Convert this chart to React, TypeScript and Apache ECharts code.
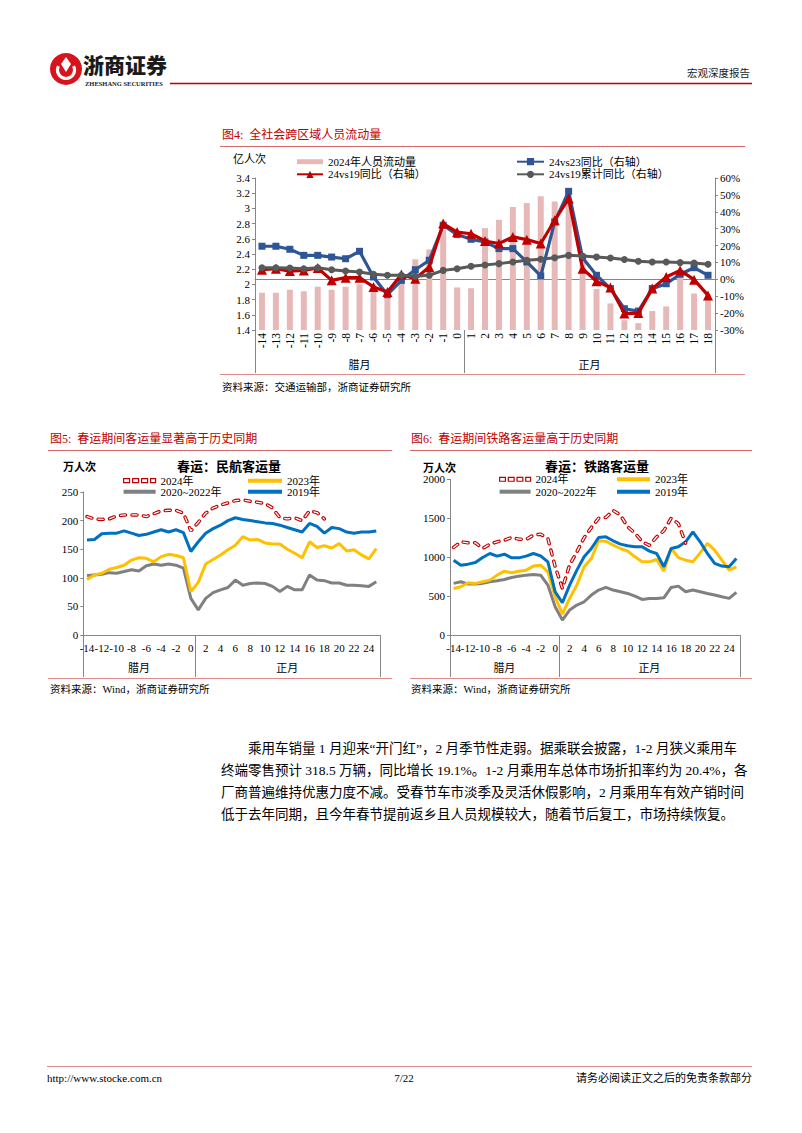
import React, { useEffect, useRef } from 'react';
import * as echarts from 'echarts';

const SERIF = '"Liberation Serif", "Times New Roman", "Noto Sans CJK SC", serif';
const SANS_CJK = '"Noto Sans CJK SC", sans-serif';

// ---------- 图4 ----------
const c4Categories = ['-14','-13','-12','-11','-10','-9','-8','-7','-6','-5','-4','-3','-2','-1','0','1','2','3','4','5','6','7','8','9','10','11','12','13','14','15','16','17','18'];
const c4Groups = ['腊月', '正月'];
const c4Flow = [1.89,1.89,1.93,1.91,1.97,1.93,1.97,2.00,2.00,1.85,2.10,2.33,2.46,2.72,1.96,1.95,2.74,2.85,3.02,3.07,3.16,3.09,3.10,2.30,1.94,1.75,1.53,1.49,1.65,1.71,2.15,1.88,1.87];
const c4Vs23 = [19.6,19.6,17.8,14.2,14.2,13.2,12.2,16.6,1.4,-9.1,-0.6,5.7,11.3,32.0,26.5,23.7,22.1,18.2,18.2,10.3,2.0,34.0,52.1,12.8,2.4,-5.5,-17.4,-18.8,-5.5,-2.6,3.0,6.9,2.4];
const c4Vs19 = [5.7,6.3,4.9,5.3,6.7,-0.6,1.0,1.0,-4.5,-7.5,2.8,0.4,7.3,33.0,28.0,27.0,22.7,21.2,25.1,23.5,21.2,35.0,47.8,6.3,-1.2,-4.9,-20.3,-20.0,-5.5,1.4,5.3,-0.2,-9.5];
const c4Cum19 = [6.9,6.9,6.7,6.3,6.9,5.7,4.9,4.3,3.0,2.4,2.4,1.8,2.4,5.3,6.3,7.7,8.5,9.3,10.3,11.3,11.9,12.8,14.2,13.8,13.2,12.6,11.7,10.7,10.3,10.3,9.9,9.7,8.9];

// ---------- 图5 民航 ----------
const c5Categories = ['-14','-13','-12','-11','-10','-9','-8','-7','-6','-5','-4','-3','-2','-1','0','1','2','3','4','5','6','7','8','9','10','11','12','13','14','15','16','17','18','19','20','21','22','23','24','25'];
const c5Y2024 = [207,203,202,203,208,210,210,210,207,212,217,218,218,213,182,197,213,222,227,231,235,236,234,232,230,222,205,203,205,200,217,214,203];
const c5Y2023 = [97,105,108,115,118,122,131,135,134,128,137,141,139,135,76,92,124,132,140,149,157,172,166,167,161,159,159,150,143,135,163,153,156,152,160,147,149,140,133,151];
const c5Y2019 = [166,167,177,178,178,182,178,174,176,180,184,180,184,179,146,163,178,186,192,200,205,202,200,198,196,195,192,188,184,180,195,190,178,188,186,180,178,180,180,182];
const c5YRange = [104,105,106,109,108,111,114,112,121,124,122,124,122,117,64,44,64,74,79,83,96,87,90,91,90,85,76,85,79,79,105,96,95,91,91,87,87,86,85,93];

// ---------- 图6 铁路 ----------
const c6Categories = c5Categories;
const c6Y2024 = [1124,1197,1184,1184,1111,1167,1197,1218,1252,1231,1227,1282,1295,1239,880,598,900,1068,1250,1380,1500,1510,1600,1540,1390,1310,1200,1150,1260,1340,1500,1430,1180];
const c6Y2023 = [598,620,671,663,684,705,769,820,799,820,833,885,897,812,491,269,470,641,876,983,1210,1205,1154,1111,1077,1004,940,940,970,820,1111,995,961,940,1055,1176,1090,961,833,876];
const c6Y2019 = [961,897,910,931,995,1047,1013,1038,991,991,1013,1047,1017,940,555,414,641,833,1004,1111,1252,1261,1210,1167,1146,1133,1133,1077,1047,876,1111,1133,1197,1325,1197,1047,919,885,876,983];
const c6YRange = [663,684,654,654,663,684,696,713,739,756,769,778,769,641,363,192,320,385,427,513,577,611,577,556,534,500,457,470,470,478,611,628,556,577,556,534,513,491,470,547];

const RED = '#c00000';
const BLUE4 = '#2f5597';
const GRAY4 = '#595959';
const PINK = '#e6b9b8';
const YELLOW = '#ffc000';
const BLUE = '#0070c0';
const GRAY = '#808080';
const AXIS = '#868686';

const paragraph = [
  '乘用车销量 1 月迎来“开门红”，2 月季节性走弱。据乘联会披露，1-2 月狭义乘用车',
  '终端零售预计 318.5 万辆，同比增长 19.1%。1-2 月乘用车总体市场折扣率约为 20.4%，各',
  '厂商普遍维持优惠力度不减。受春节车市淡季及灵活休假影响，2 月乘用车有效产销时间',
  '低于去年同期，且今年春节提前返乡且人员规模较大，随着节后复工，市场持续恢复。',
];

const txt = (x: number, y: number, text: string, size: number, o: any = {}) => ({
  type: 'text', x, y, silent: true,
  style: {
    text, fontSize: size, fontFamily: o.family || SERIF, fill: o.fill || '#000',
    fontWeight: o.weight || 'normal', textAlign: o.align || 'left', textVerticalAlign: 'middle',
  },
});
const ln = (x1: number, y1: number, x2: number, y2: number, stroke: string, w = 1) => ({
  type: 'line', silent: true, shape: { x1, y1, x2, y2 }, style: { stroke, lineWidth: w },
});

const staticGraphics = () => [
  // header
  { type: 'circle', silent: true, shape: { cx: 66, cy: 69, r: 16 }, style: { fill: '#d7141c' } },
  { type: 'arc', silent: true, shape: { cx: 66, cy: 70, r: 8.5, startAngle: -0.15 * Math.PI, endAngle: 1.15 * Math.PI, clockwise: true }, style: { stroke: '#fff', lineWidth: 3.2, fill: 'none' } },
  { type: 'polygon', silent: true, shape: { points: [[66, 57], [71, 64], [66, 72], [61, 64]] }, style: { fill: '#fff' } },
  txt(83, 64, '浙商证券', 21, { family: SANS_CJK, weight: 900, fill: '#1a1a1a' }),
  txt(85, 83.5, 'ZHESHANG SECURITIES', 6.5, { weight: 'bold', fill: '#222' }),
  ln(170, 83.5, 752, 83.5, RED, 1.5),
  txt(750, 73, '宏观深度报告', 10.5, { align: 'right', fill: '#222' }),
  // chart 4 frame
  txt(222, 135, '图4:  全社会跨区域人员流动量', 12, { fill: RED }),
  ln(220, 146.5, 745, 146.5, '#d46a6a', 1),
  txt(233, 158.5, '亿人次', 11),
  ln(220, 374.5, 745, 374.5, '#e08a8a', 1),
  txt(222, 387, '资料来源：交通运输部，浙商证券研究所', 10.5),
  // chart 5 frame
  txt(50, 439, '图5:  春运期间客运量显著高于历史同期', 12, { fill: RED }),
  ln(48, 450.5, 392, 450.5, '#d46a6a', 1),
  txt(63, 467, '万人次', 11, { weight: 'bold' }),
  txt(229, 466.5, '春运：民航客运量', 13, { weight: 'bold', align: 'center' }),
  ln(48, 678.5, 392, 678.5, '#e08a8a', 1),
  txt(50, 689.5, '资料来源：Wind，浙商证券研究所', 10.5),
  // chart 6 frame
  txt(411, 439, '图6:  春运期间铁路客运量高于历史同期', 12, { fill: RED }),
  ln(410, 450.5, 752, 450.5, '#d46a6a', 1),
  txt(423, 468, '万人次', 11, { weight: 'bold' }),
  txt(597, 466, '春运：铁路客运量', 13, { weight: 'bold', align: 'center' }),
  ln(410, 678.5, 752, 678.5, '#e08a8a', 1),
  txt(411, 689.5, '资料来源：Wind，浙商证券研究所', 10.5),
  // paragraph
  txt(248, 748, paragraph[0], 13.5),
  txt(221, 770, paragraph[1], 13.5),
  txt(221, 792, paragraph[2], 13.5),
  txt(221, 814, paragraph[3], 13.5),
  // footer
  ln(47, 1066.5, 752, 1066.5, '#e08a8a', 1),
  txt(47, 1078, 'http://www.stocke.com.cn', 11),
  txt(404, 1078, '7/22', 11, { align: 'center' }),
  txt(752, 1078, '请务必阅读正文之后的免责条款部分', 11, { align: 'right' }),
];

const labelStyle = { color: '#000', fontFamily: SERIF, fontSize: 11 };

const catAxis = (gridIndex: number, data: string[], extra: any = {}) => ({
  type: 'category', gridIndex, data, boundaryGap: true,
  axisLine: { show: true, lineStyle: { color: AXIS, width: 1 } },
  axisTick: { show: false },
  splitLine: { show: false },
  axisLabel: { ...labelStyle, ...extra },
});

const valAxis = (gridIndex: number, min: number, max: number, interval: number, extra: any = {}) => ({
  type: 'value', gridIndex, min, max, interval,
  axisLine: { show: true, lineStyle: { color: AXIS, width: 1 } },
  axisTick: { show: true, length: 3, lineStyle: { color: AXIS } },
  splitLine: { show: false },
  axisLabel: { ...labelStyle, margin: 5, formatter: (v: number) => String(Math.round(v * 10) / 10), ...extra },
});

const lineSeries = (name: string, x: number, y: number, data: number[], color: string, z: number, extra: any = {}) => ({
  type: 'line', name, xAxisIndex: x, yAxisIndex: y, data, z,
  symbol: 'none', smooth: false,
  lineStyle: { color, width: 3 },
  itemStyle: { color },
  emphasis: { disabled: true },
  ...extra,
});

const dashIcon = 'path://M0,0h6v4h-6zM9,0h6v4h-6zM18,0h6v4h-6zM27,0h5v4h-5z';

const buildOption = () => ({
  animation: false,
  backgroundColor: '#fff',
  grid: [
    { left: 255, top: 178, width: 460, height: 152 },
    { left: 83.3, top: 492, width: 296.7, height: 143 },
    { left: 450, top: 479.3, width: 290, height: 155.7 },
  ],
  xAxis: [
    catAxis(0, c4Categories, { rotate: 90, interval: 0, margin: 3, fontSize: 11.5 }),
    catAxis(1, c5Categories, { interval: 1, margin: 7 }),
    catAxis(2, c6Categories, { interval: 1, margin: 7 }),
  ],
  yAxis: [
    valAxis(0, 1.4, 3.4, 0.2),
    { ...valAxis(0, -30, 60, 10, { formatter: (v: number) => `${Math.round(v)}%` }), position: 'right' },
    valAxis(1, 0, 250, 50),
    valAxis(2, 0, 2000, 500),
  ],
  legend: [
    {
      left: 296, top: 155.4, orient: 'vertical', padding: 0, itemGap: 0, itemWidth: 26, itemHeight: 9,
      textStyle: { ...labelStyle, lineHeight: 12.6 },
      data: [{ name: '2024年人员流动量', icon: 'path://M0,0h26v5h-26z' }, '24vs19同比（右轴）'],
    },
    {
      left: 516, top: 155.4, orient: 'vertical', padding: 0, itemGap: 0, itemWidth: 27, itemHeight: 9,
      textStyle: { ...labelStyle, lineHeight: 12.6 },
      data: ['24vs23同比（右轴）', '24vs19累计同比（右轴）'],
    },
    {
      left: 123, top: 475.2, orient: 'vertical', padding: 0, itemGap: 0, itemWidth: 32, itemHeight: 4,
      textStyle: { ...labelStyle, lineHeight: 11 },
      data: [
        { name: '2024年', icon: dashIcon, itemStyle: { color: '#fff', borderColor: RED, borderWidth: 1.2 } },
        { name: '2020~2022年', icon: 'rect' },
      ],
    },
    {
      left: 248, top: 475.2, orient: 'vertical', padding: 0, itemGap: 0, itemWidth: 34, itemHeight: 4,
      textStyle: { ...labelStyle, lineHeight: 11 },
      data: [{ name: '2023年', icon: 'rect' }, { name: '2019年', icon: 'rect' }],
    },
    {
      left: 499, top: 473.1, orient: 'vertical', padding: 0, itemGap: 0, itemWidth: 31, itemHeight: 4,
      textStyle: { ...labelStyle, lineHeight: 12.4 },
      data: [
        { name: '2024年', icon: dashIcon, itemStyle: { color: '#fff', borderColor: RED, borderWidth: 1.2 } },
        { name: '2020~2022年', icon: 'rect' },
      ],
    },
    {
      left: 617, top: 473.1, orient: 'vertical', padding: 0, itemGap: 0, itemWidth: 33, itemHeight: 4,
      textStyle: { ...labelStyle, lineHeight: 12.4 },
      data: [{ name: '2023年', icon: 'rect' }, { name: '2019年', icon: 'rect' }],
    },
  ],
  series: [
    // chart 4
    {
      type: 'bar', name: '2024年人员流动量', xAxisIndex: 0, yAxisIndex: 0, data: c4Flow,
      barWidth: 6, itemStyle: { color: PINK }, z: 2, emphasis: { disabled: true },
    },
    lineSeries('24vs23同比（右轴）', 0, 1, c4Vs23, BLUE4, 3, { symbol: 'rect', symbolSize: 7, showSymbol: true, showAllSymbol: true, lineStyle: { color: BLUE4, width: 3.2 } }),
    lineSeries('24vs19同比（右轴）', 0, 1, c4Vs19, RED, 4, { symbol: 'triangle', symbolSize: 10, showSymbol: true, showAllSymbol: true, lineStyle: { color: RED, width: 3.2 } }),
    lineSeries('24vs19累计同比（右轴）', 0, 1, c4Cum19, GRAY4, 5, { symbol: 'circle', symbolSize: 7, showSymbol: true, showAllSymbol: true, lineStyle: { color: GRAY4, width: 3 } }),
    // chart 5
    lineSeries('2020~2022年', 1, 2, c5YRange, GRAY, 2),
    lineSeries('2023年', 1, 2, c5Y2023, YELLOW, 3),
    lineSeries('2019年', 1, 2, c5Y2019, BLUE, 4),
    lineSeries('2024年', 1, 2, c5Y2024, RED, 5, { lineStyle: { color: RED, width: 3.5, type: [5, 6.5], cap: 'round' } }),
    lineSeries('2024年内', 1, 2, c5Y2024, '#fff', 6, { lineStyle: { color: '#fff', width: 1.3, type: [5, 6.5], cap: 'round' } }),
    // chart 6
    lineSeries('2020~2022年', 2, 3, c6YRange, GRAY, 2),
    lineSeries('2023年', 2, 3, c6Y2023, YELLOW, 3),
    lineSeries('2019年', 2, 3, c6Y2019, BLUE, 4),
    lineSeries('2024年', 2, 3, c6Y2024, RED, 5, { lineStyle: { color: RED, width: 3.5, type: [5, 6.5], cap: 'round' } }),
    lineSeries('2024年内', 2, 3, c6Y2024, '#fff', 6, { lineStyle: { color: '#fff', width: 1.3, type: [5, 6.5], cap: 'round' } }),
  ],
});

export default function App() {
  const ref = useRef<HTMLDivElement>(null);
  useEffect(() => {
    document.body.style.margin = '0';
    const chart = echarts.init(ref.current!, null, { renderer: 'svg' });
    chart.setOption(buildOption() as any);

    const groupGraphics: any[] = [];
    const addGroups = (axisIndex: number, n: number, splitAfter: number, axisY: number, bottomY: number, labelY: number) => {
      const px = (i: number) => chart.convertToPixel({ xAxisIndex: axisIndex } as any, i) as number;
      const band = px(1) - px(0);
      const left = px(0) - band / 2;
      const right = px(n - 1) + band / 2;
      const mid = (px(splitAfter) + px(splitAfter + 1)) / 2;
      const snap = (v: number) => Math.round(v) + 0.5;
      groupGraphics.push(ln(snap(left), axisY, snap(left), bottomY, AXIS, 1));
      groupGraphics.push(ln(snap(mid), axisY, snap(mid), bottomY, AXIS, 1));
      groupGraphics.push(ln(snap(right), axisY, snap(right), bottomY, AXIS, 1));
      groupGraphics.push(txt((left + mid) / 2, labelY, c4Groups[0], 11, { align: 'center' }));
      groupGraphics.push(txt((mid + right) / 2, labelY, c4Groups[1], 11, { align: 'center' }));
    };
    addGroups(0, c4Categories.length, c4Categories.indexOf('0'), 330, 373, 365);
    addGroups(1, c5Categories.length, c5Categories.indexOf('0'), 635, 677, 668);
    addGroups(2, c6Categories.length, c6Categories.indexOf('0'), 635, 677, 668);

    chart.setOption({ graphic: [...staticGraphics(), ...groupGraphics] } as any);
    return () => chart.dispose();
  }, []);
  return (
    <div
      ref={ref}
      style={{ position: 'absolute', left: 0, top: 0, width: 802, height: 1133, background: '#fff' }}
    />
  );
}
